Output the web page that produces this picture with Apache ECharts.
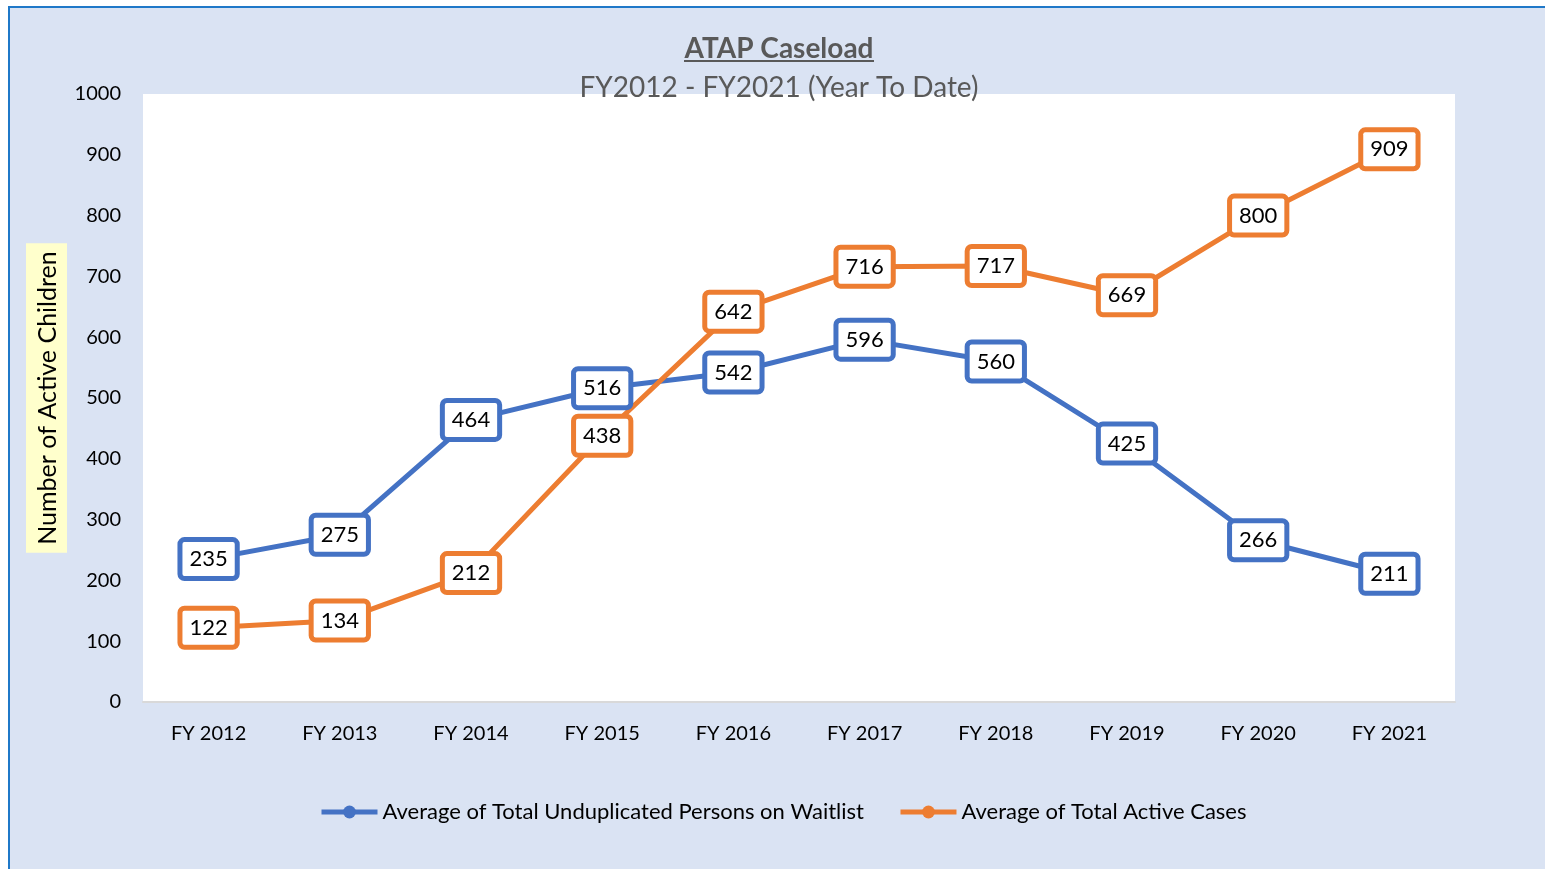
<!DOCTYPE html>
<html>
<head>
<meta charset="utf-8">
<script src="https://cdn.jsdelivr.net/npm/echarts@6/dist/echarts.min.js"></script>
<style>
    html, body { margin: 0; padding: 0; width: 1545px; height: 869px; overflow: hidden; background: #fff; }
    #frame { position: absolute; left: 8px; top: 6px; width: 1560px; height: 880px;
             border-left: 2px solid #1f78c8; border-top: 2px solid #1f78c8; background: #dae3f3; }
    #chart { position: absolute; left: 0; top: 0; width: 1538px; height: 863px; }
</style>
</head>
<body>
<div id="frame"><div id="chart"></div></div>
<script>
// data
const categories = ['FY 2012', 'FY 2013', 'FY 2014', 'FY 2015', 'FY 2016', 'FY 2017', 'FY 2018', 'FY 2019', 'FY 2020', 'FY 2021'];
const waitlist = [235, 275, 464, 516, 542, 596, 560, 425, 266, 211];
const activeCases = [122, 134, 212, 438, 642, 716, 717, 669, 800, 909];
const seriesNames = ['Average of Total Unduplicated Persons on Waitlist', 'Average of Total Active Cases'];
const colors = ['#4472c4', '#ed7d31'];

const FONT = 'Lato, "Open Sans", sans-serif';

const chart = echarts.init(document.getElementById('chart'));

function makeSeries(name, data, color) {
    return {
        name: name,
        type: 'line',
        data: data,
        symbol: 'circle',
        symbolSize: 14,
        itemStyle: { color: color },
        lineStyle: { width: 5, color: color },
        label: {
            show: true,
            position: 'inside',
            color: '#000',
            fontFamily: FONT,
            fontSize: 22,
            backgroundColor: '#fff',
            borderColor: color,
            borderWidth: 5,
            borderRadius: 2,
            padding: [7, 7, 5, 7]
        },
        emphasis: { disabled: true }
    };
}

const option = {
    animation: false,
    backgroundColor: 'transparent',
    color: colors,
    title: [
        { text: 'ATAP Caseload', left: 'center', top: 22,
          textStyle: { fontFamily: FONT, fontSize: 28, fontWeight: 'bold', color: '#595959' } },
        { text: 'FY2012 - FY2021 (Year To Date)', left: 'center', top: 61,
          textStyle: { fontFamily: FONT, fontSize: 28, fontWeight: 'normal', color: '#595959' } }
    ],
    graphic: [
        { type: 'line', shape: { x1: 674, y1: 53, x2: 864, y2: 53 },
          style: { stroke: '#595959', lineWidth: 2 }, z: 10 }
    ],
    grid: { left: 133, top: 86, width: 1312, height: 608, backgroundColor: '#fff', show: true, borderWidth: 0 },
    legend: {
        data: seriesNames,
        left: 304,
        top: 788,
        itemWidth: 56,
        itemHeight: 16,
        itemGap: 34,
        lineStyle: { width: 5 },
        textStyle: { fontFamily: FONT, fontSize: 22, color: '#000' }
    },
    xAxis: {
        type: 'category',
        data: categories,
        boundaryGap: true,
        axisLine: { lineStyle: { color: '#d9d9d9', width: 2 } },
        axisTick: { show: false },
        axisLabel: { fontFamily: FONT, fontSize: 20, color: '#000', margin: 22 }
    },
    yAxis: {
        type: 'value',
        min: 0,
        max: 1000,
        interval: 100,
        name: 'Number of Active Children',
        nameLocation: 'middle',
        nameRotate: 90,
        nameGap: 76,
        nameMoveOverlap: false,
        nameTextStyle: { fontFamily: FONT, fontSize: 25, color: '#000', backgroundColor: '#ffffcc', padding: [9, 8, 7, 8] },
        splitLine: { show: false },
        axisLine: { show: false },
        axisTick: { show: false },
        axisLabel: { fontFamily: FONT, fontSize: 20, color: '#000', margin: 22, formatter: (v) => String(v) }
    },
    series: [
        makeSeries(seriesNames[0], waitlist, colors[0]),
        makeSeries(seriesNames[1], activeCases, colors[1])
    ]
};

chart.setOption(option);
</script>
</body>
</html>
